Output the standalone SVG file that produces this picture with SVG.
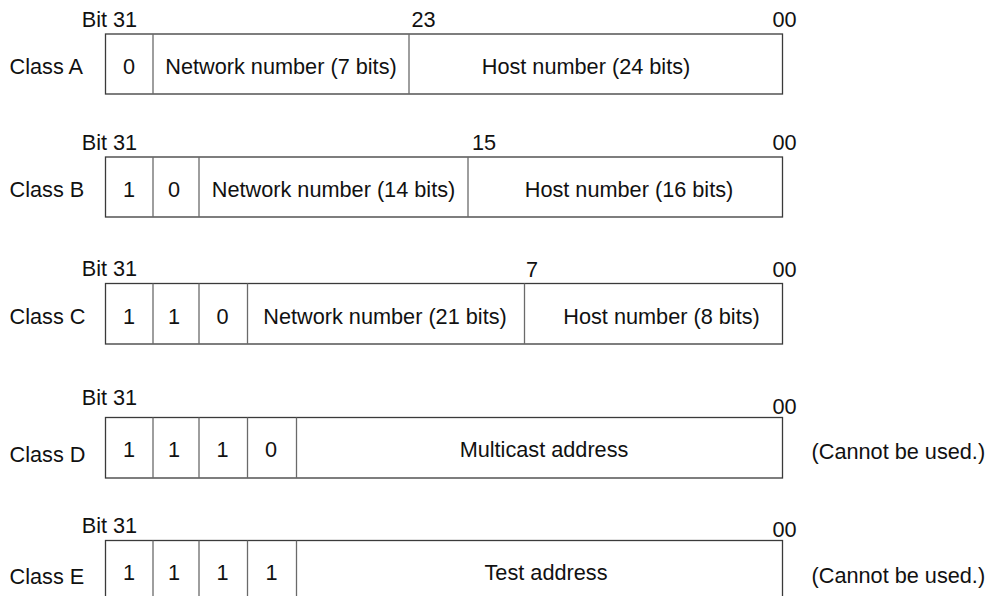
<svg xmlns="http://www.w3.org/2000/svg" width="986" height="596" viewBox="0 0 986 596">
<style>
text{font-family:"Liberation Sans",Arial,Helvetica,sans-serif;font-size:21.7px;fill:#111}
.m{text-anchor:middle}
.box{fill:#fff;stroke:#3a3a3a;stroke-width:1.3}
.div{stroke:#6a6a6a;stroke-width:1.3}
</style>
<rect width="986" height="596" fill="#fff"/>
<g id="classA">
<text x="9.5" y="74.3">Class A</text>
<text x="81.7" y="26.7">Bit 31</text>
<text x="411.5" y="27">23</text>
<text x="772.5" y="27">00</text>
<rect class="box" x="105.5" y="34" width="677" height="60"/>
<line class="div" x1="153" y1="34" x2="153" y2="94"/>
<line class="div" x1="409" y1="34" x2="409" y2="94"/>
<text class="m" x="129" y="74">0</text>
<text class="m" x="281" y="74">Network number (7 bits)</text>
<text class="m" x="586" y="74">Host number (24 bits)</text>
</g>
<g id="classB">
<text x="9.5" y="197">Class B</text>
<text x="81.7" y="150">Bit 31</text>
<text x="472" y="150">15</text>
<text x="772.5" y="150">00</text>
<rect class="box" x="105.5" y="157" width="677" height="60"/>
<line class="div" x1="153" y1="157" x2="153" y2="217"/>
<line class="div" x1="199" y1="157" x2="199" y2="217"/>
<line class="div" x1="468" y1="157" x2="468" y2="217"/>
<text class="m" x="129" y="197">1</text>
<text class="m" x="174" y="197">0</text>
<text class="m" x="333.5" y="197">Network number (14 bits)</text>
<text class="m" x="629" y="197">Host number (16 bits)</text>
</g>
<g id="classC">
<text x="9.5" y="324">Class C</text>
<text x="81.7" y="276">Bit 31</text>
<text x="526" y="276.7">7</text>
<text x="772.5" y="276.7">00</text>
<rect class="box" x="105.5" y="283.5" width="677" height="60.5"/>
<line class="div" x1="153" y1="283.5" x2="153" y2="344"/>
<line class="div" x1="199" y1="283.5" x2="199" y2="344"/>
<line class="div" x1="247.5" y1="283.5" x2="247.5" y2="344"/>
<line class="div" x1="524.5" y1="283.5" x2="524.5" y2="344"/>
<text class="m" x="129" y="324">1</text>
<text class="m" x="174" y="324">1</text>
<text class="m" x="222.5" y="324">0</text>
<text class="m" x="385" y="324">Network number (21 bits)</text>
<text class="m" x="661.5" y="324">Host number (8 bits)</text>
</g>
<g id="classD">
<text x="9.5" y="461.7">Class D</text>
<text x="81.7" y="405">Bit 31</text>
<text x="772.5" y="414">00</text>
<rect class="box" x="105.5" y="417.5" width="677" height="60.5"/>
<line class="div" x1="153" y1="417.5" x2="153" y2="478"/>
<line class="div" x1="199" y1="417.5" x2="199" y2="478"/>
<line class="div" x1="247.5" y1="417.5" x2="247.5" y2="478"/>
<line class="div" x1="296.5" y1="417.5" x2="296.5" y2="478"/>
<text class="m" x="129" y="456.7">1</text>
<text class="m" x="174" y="456.7">1</text>
<text class="m" x="222.5" y="456.7">1</text>
<text class="m" x="271" y="456.7">0</text>
<text class="m" x="544" y="457.3">Multicast address</text>
<text x="811.5" y="459">(Cannot be used.)</text>
</g>
<g id="classE">
<text x="9.5" y="584.3">Class E</text>
<text x="81.7" y="533">Bit 31</text>
<text x="772.5" y="537">00</text>
<rect class="box" x="105.5" y="540.5" width="677" height="62"/>
<line class="div" x1="153" y1="540.5" x2="153" y2="602"/>
<line class="div" x1="199" y1="540.5" x2="199" y2="602"/>
<line class="div" x1="247.5" y1="540.5" x2="247.5" y2="602"/>
<line class="div" x1="296.5" y1="540.5" x2="296.5" y2="602"/>
<text class="m" x="129" y="580">1</text>
<text class="m" x="174" y="580">1</text>
<text class="m" x="222.5" y="580">1</text>
<text class="m" x="271.5" y="580">1</text>
<text class="m" x="546" y="580">Test address</text>
<text x="811.5" y="583">(Cannot be used.)</text>
</g>
</svg>
